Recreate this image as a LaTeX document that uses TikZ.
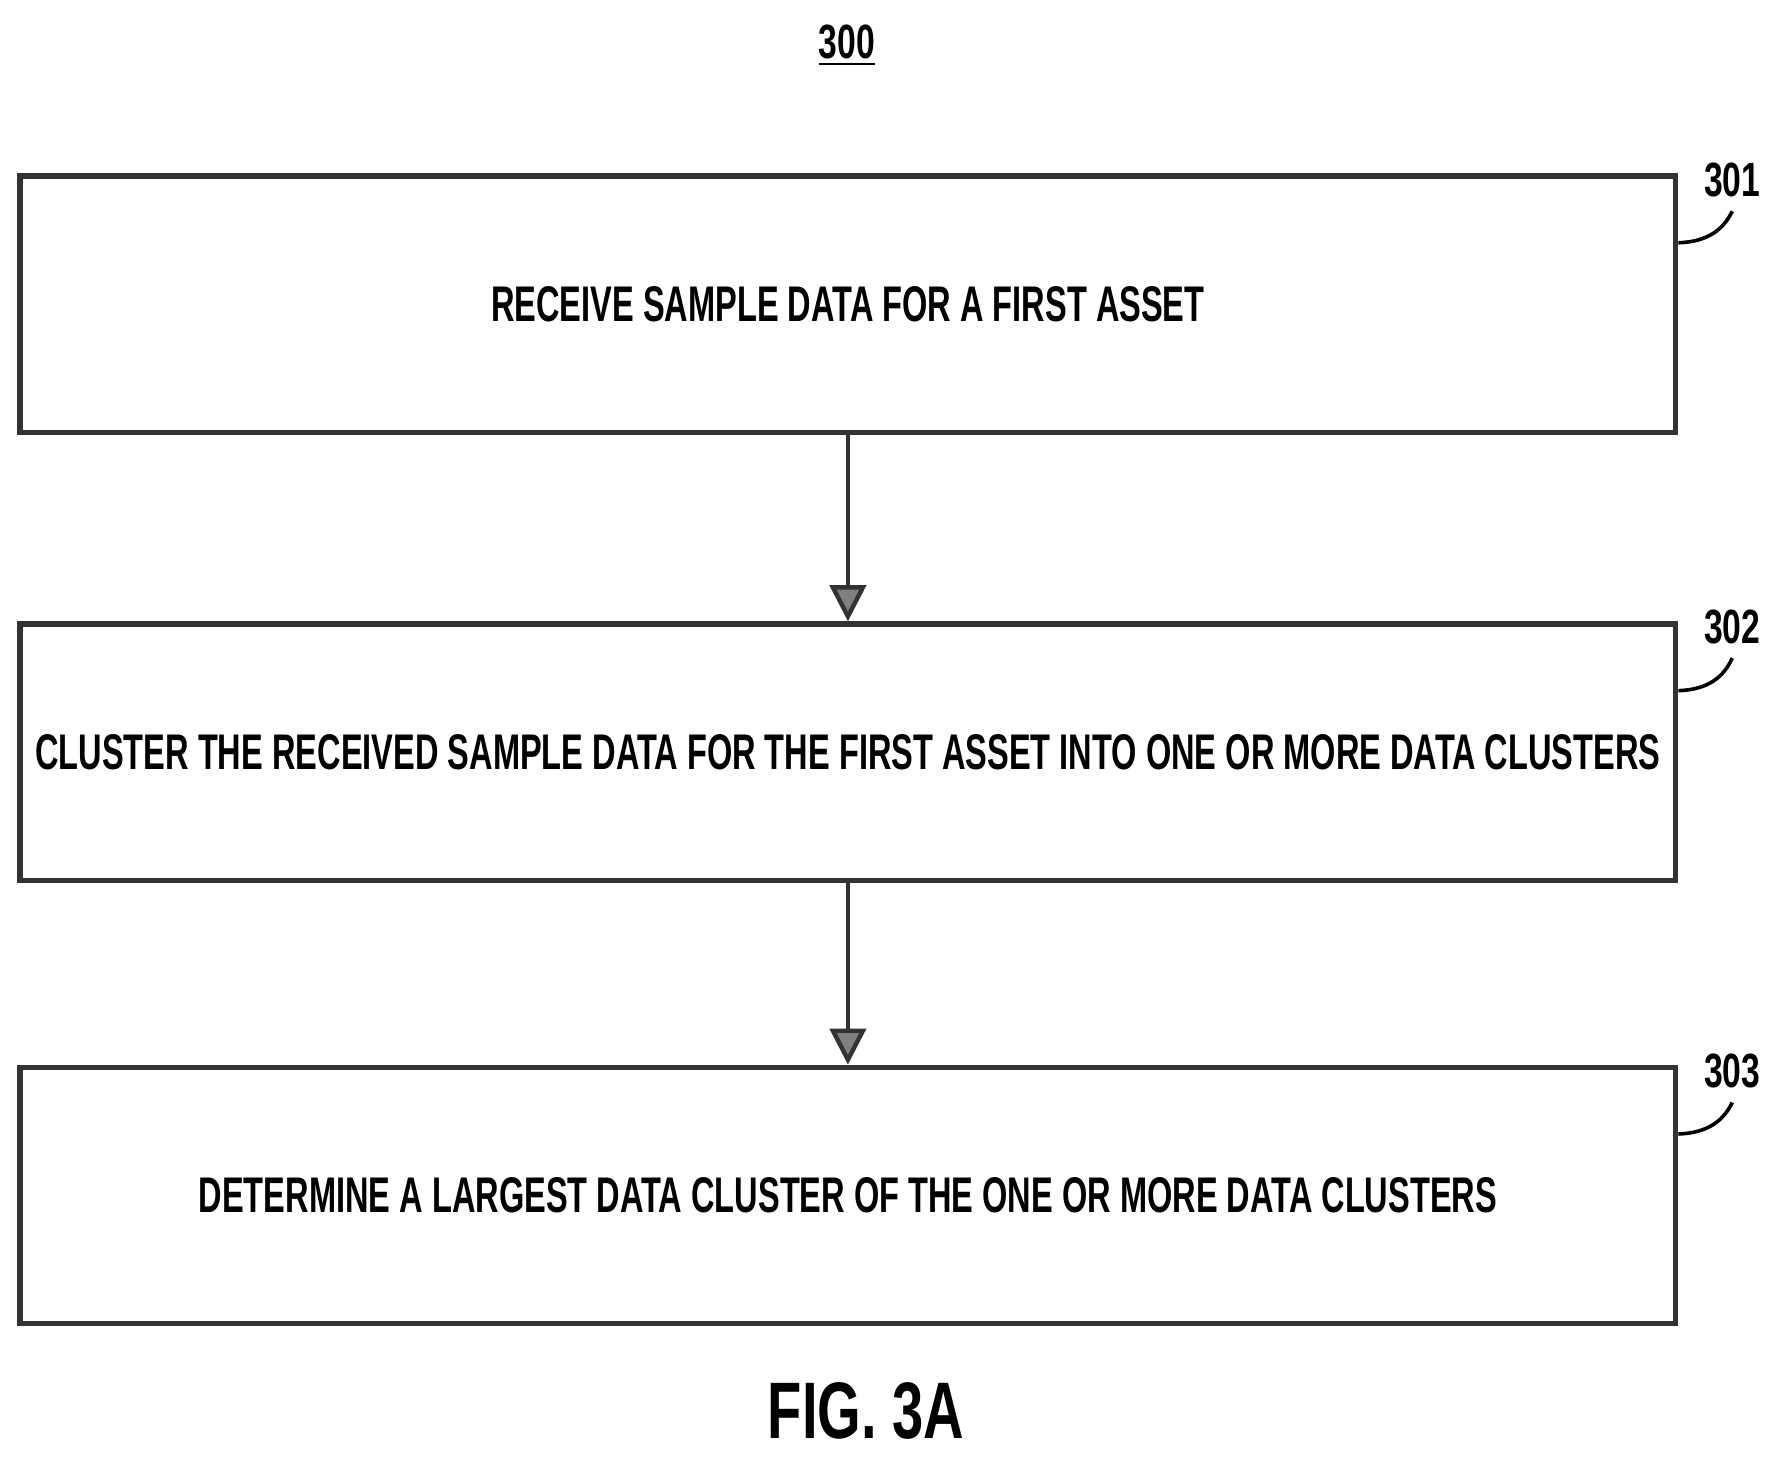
\documentclass[tikz,border=0pt]{standalone}
\usepackage{fontspec}
\setmainfont{Liberation Sans}
\usetikzlibrary{arrows.meta}
\begin{document}
\begin{tikzpicture}[x=0.01cm,y=-0.01cm,
  box/.style={draw=black!80,line width=1.3pt,minimum width=14.52cm,minimum height=2.25cm,inner sep=0pt},
  txt/.style={font=\fontsize{12.5}{14}\selectfont\bfseries,xscale=0.65},
  ref/.style={font=\fontsize{12}{14}\selectfont\bfseries,xscale=0.7},
  arr/.style={draw=black!80,line width=1.1pt,-{Triangle[length=9pt,width=9pt,fill=black!50]}},
  lead/.style={draw=black,line width=0.9pt}]
\useasboundingbox (0,0) rectangle (1568,1284);
\node[ref] (t) at (743,40) {\underline{300}};
\node[box] (b1) at (744,267) {};
\node[txt] (l1) at (744,267) {RECEIVE SAMPLE DATA FOR A FIRST ASSET};
\node[box] (b2) at (744,660) {};
\node[txt] (l2) at (744,660) {CLUSTER THE RECEIVED SAMPLE DATA FOR THE FIRST ASSET INTO ONE OR MORE DATA CLUSTERS};
\node[box] (b3) at (744,1049) {};
\node[txt] (l3) at (744,1049) {DETERMINE A LARGEST DATA CLUSTER OF THE ONE OR MORE DATA CLUSTERS};
\draw[arr] (b1.south) -- (b2.north);
\draw[arr] (b2.south) -- (b3.north);
\node[ref] (r1) at (1520,158) {301};
\node[ref] (r2) at (1520,550) {302};
\node[ref] (r3) at (1520,940) {303};
\coordinate (c1) at (b1.east |- 0,213);
\coordinate (c2) at (b2.east |- 0,606);
\coordinate (c3) at (b3.east |- 0,995);
\draw[lead] (c1) .. controls (1505,212) and (1515,195) .. (r1.south);
\draw[lead] (c2) .. controls (1505,605) and (1515,588) .. (r2.south);
\draw[lead] (c3) .. controls (1505,994) and (1515,977) .. (r3.south);
\node[font=\fontsize{20}{24}\selectfont\bfseries,xscale=0.7] (f) at (760,1238) {FIG. 3A};
\end{tikzpicture}
\end{document}
